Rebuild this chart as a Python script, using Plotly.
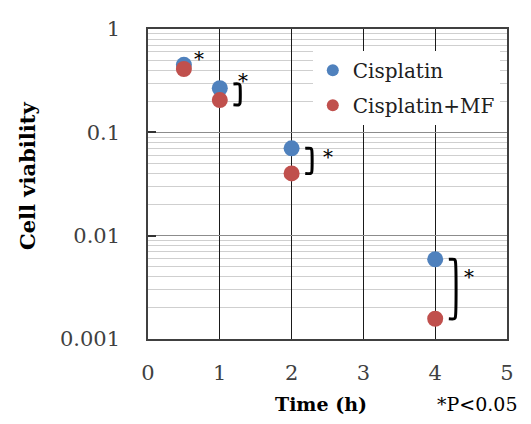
import math
import plotly.graph_objects as go

# ---- data ----
time_h = [0.5, 1, 2, 4]
cisplatin = [0.45, 0.267, 0.070, 0.0059]
cisplatin_mf = [0.41, 0.205, 0.040, 0.00157]
series_names = ["Cisplatin", "Cisplatin+MF"]
x_ticks = [0, 1, 2, 3, 4, 5]
y_ticks = [0.001, 0.01, 0.1, 1]
y_tick_labels = ["0.001", "0.01", "0.1", "1"]
sig_flags = [True, True, True, True]

BLUE = "#4F81BD"
RED = "#C0504D"
SERIF = "DejaVu Serif"
TICK_COLOR = "#404040"

# page has an 8px body margin; compensate so the figure lands on the target pixels
OFF = 8
PAGE_W, PAGE_H = 531, 424
W, H = PAGE_W - 2 * OFF, PAGE_H - 2 * OFF
PL, PR, PT, PB = 148, 514, 24, 339  # plot area in page pixels
L, T = PL - OFF, PT - OFF
R = W - (PR - OFF)
B = H - (PB - OFF)
PW, PH = PR - PL, PB - PT

def px_to_paper(px, py):
    return (px - PL) / PW, 1 - (py - PT) / PH

fig = go.Figure()

fig.add_trace(go.Scatter(x=time_h, y=cisplatin, mode="markers", name=series_names[0],
                         legendgroup="a",
                         marker=dict(color=BLUE, size=16, line=dict(width=0))))
fig.add_trace(go.Scatter(x=time_h, y=cisplatin_mf, mode="markers", name=series_names[1],
                         legendgroup="b",
                         marker=dict(color=RED, size=16, line=dict(width=0))))

# significance brackets (skip the first point where markers overlap)
for i, (t, a, b) in enumerate(zip(time_h, cisplatin, cisplatin_mf)):
    if i == 0 or not sig_flags[i]:
        continue
    x0, x1 = t + 0.19, t + 0.28
    top, bot = a, b
    if i == 1:
        top, bot = a * 1.1, b * 0.9
    fig.add_trace(go.Scatter(
        x=[x0, x1 - 0.015, x1, x1, x1 - 0.015, x0],
        y=[top, top, top * 0.97, bot * 1.03, bot, bot],
        mode="lines", line=dict(color="black", width=3, shape="spline", smoothing=0.6),
        showlegend=False, hoverinfo="skip"))

# stars (data coordinates; annotation y on log axis uses log10)
star_offsets = [(0.21, 10), (0.32, 11), (0.51, -5), (0.47, -14)]
annotations = []
for i, (t, a) in enumerate(zip(time_h, cisplatin)):
    if not sig_flags[i]:
        continue
    dx, dpy = star_offsets[i]
    annotations.append(dict(x=t + dx, y=math.log10(a), xref="x", yref="y", text="*",
                            showarrow=False, yshift=dpy - 4,
                            font=dict(family=SERIF, size=20, color="black")))

ax_, ay_ = px_to_paper(324, 405)
annotations.append(dict(x=ax_, y=ay_, xref="paper", yref="paper", text="<b>Time (h)</b>",
                        showarrow=False, xanchor="center", yanchor="middle",
                        font=dict(family=SERIF, size=19, color="black")))
px_, py_ = px_to_paper(527, 405)
annotations.append(dict(x=px_, y=py_, xref="paper", yref="paper", text="*P&lt;0.05",
                        showarrow=False, xanchor="right", yanchor="middle",
                        font=dict(family=SERIF, size=19, color="black")))
yx, yy = px_to_paper(25, 173)
annotations.append(dict(x=yx, y=yy, xref="paper", yref="paper", text="<b>Cell viability</b>",
                        showarrow=False, xanchor="center", yanchor="middle", textangle=-90,
                        font=dict(family=SERIF, size=21, color="black")))

minor_vals = [m * 10 ** e for e in (-3, -2, -1) for m in range(2, 10)]

lx, ly = px_to_paper(316, 46)
fig.update_layout(
    width=W, height=H,
    margin=dict(l=L, r=R, t=T, b=B),
    paper_bgcolor="white", plot_bgcolor="white",
    annotations=annotations,
    showlegend=True,
    legend=dict(x=lx, y=ly, xanchor="left", yanchor="top", bgcolor="white",
                font=dict(family=SERIF, size=20, color="#202020"),
                itemsizing="constant", tracegroupgap=6),
    xaxis=dict(range=[0, 5], tickvals=x_ticks, showgrid=True, gridcolor="#1a1a1a",
               gridwidth=1.3, zeroline=False, showline=True, mirror=True,
               linecolor="#404040", linewidth=1.5, ticks="outside", ticklen=14,
               tickcolor="rgba(0,0,0,0)",
               tickfont=dict(family=SERIF, size=21, color=TICK_COLOR)),
    yaxis=dict(type="log", range=[-3, 0], tickvals=y_ticks, ticktext=y_tick_labels,
               showgrid=True, gridcolor="#8c8c8c", gridwidth=1.2, zeroline=False,
               showline=True, mirror=True, linecolor="#404040", linewidth=1.5,
               ticks="inside", ticklen=8, tickcolor="#333333", tickwidth=1.5,
               ticklabelstandoff=22,
               tickfont=dict(family=SERIF, size=21, color=TICK_COLOR),
               minor=dict(tickvals=minor_vals, showgrid=True, gridcolor="#cfcfcf",
                          gridwidth=1, ticks="")),
)

fig.write_html("out.html")
